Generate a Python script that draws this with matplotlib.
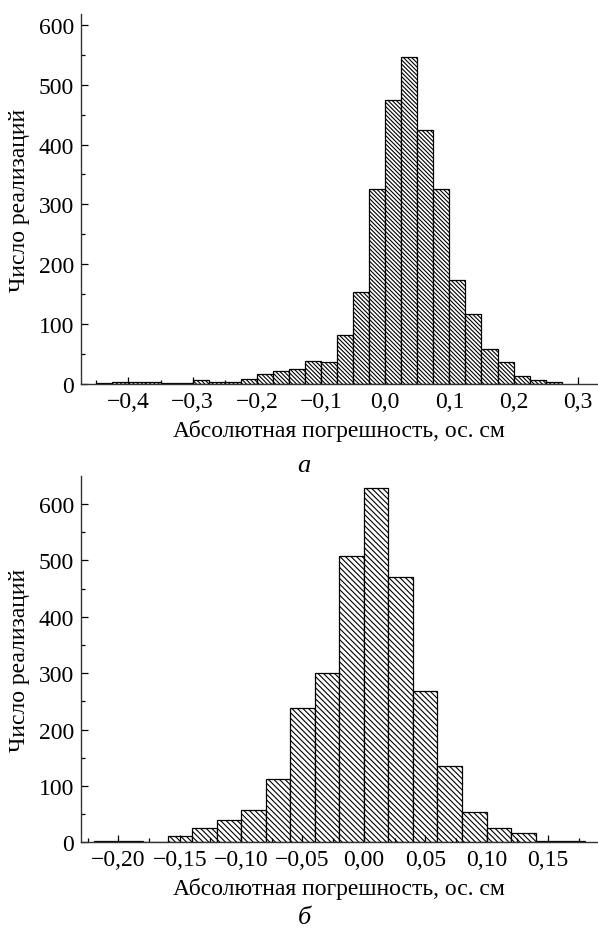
import matplotlib
matplotlib.use("Agg")
import matplotlib.pyplot as plt
import numpy as np
from matplotlib.ticker import FuncFormatter, MultipleLocator

# top histogram (а): bins of 0.025 starting at -0.45
top_start = -0.45
top_width = 0.025
top_counts = [1, 3, 3, 3, 2, 1, 7, 4, 4, 9, 16, 22, 25,
              38, 37, 82, 154, 326,
              474, 546, 424, 325, 173, 117, 59, 36, 14, 6, 3]

# bottom histogram (б): bins of 0.02 starting at -0.22
bot_start = -0.22
bot_width = 0.02
bot_counts = [3, 3, 1, 11, 25, 40, 57, 112, 239, 300,
              508, 628, 471, 268, 135, 54, 25, 17, 3, 2]

xlabel = "Абсолютная погрешность, ос. см"
ylabel = "Число реализаций"

plt.rcParams["font.family"] = ["Liberation Serif", "DejaVu Serif"]
plt.rcParams["font.size"] = 17
plt.rcParams["hatch.linewidth"] = 0.8
plt.rcParams["axes.unicode_minus"] = True

W, H = 598, 929
fig = plt.figure(figsize=(W / 100, H / 100), dpi=100)


def fmt(decimals):
    def f(v, pos):
        s = f"{v:.{decimals}f}"
        if float(s) == 0:
            s = s.lstrip("-")
        return s.replace(".", ",").replace("-", "\u2212")
    return FuncFormatter(f)


def draw(ax, start, width, counts, hatch, xlim, ylim, major, minor, decimals):
    edges = start + width * np.arange(len(counts))
    ax.bar(edges, counts, width=width, align="edge", facecolor="white",
           edgecolor="black", linewidth=0.9, hatch=hatch)
    ax.set_xlim(*xlim)
    ax.set_ylim(*ylim)
    for s in ("top", "right"):
        ax.spines[s].set_visible(False)
    for s in ("left", "bottom"):
        ax.spines[s].set_color("#333333")
        ax.spines[s].set_linewidth(1.0)
    ax.xaxis.set_major_locator(MultipleLocator(major))
    ax.xaxis.set_minor_locator(MultipleLocator(minor))
    ax.yaxis.set_major_locator(MultipleLocator(100))
    ax.yaxis.set_minor_locator(MultipleLocator(50))
    ax.xaxis.set_major_formatter(fmt(decimals))
    ax.tick_params(which="major", direction="in", length=5, width=0.9, pad=5)
    ax.tick_params(which="minor", direction="in", length=3, width=0.9)
    ax.set_xlabel(xlabel, labelpad=5)
    ax.set_ylabel(ylabel)
    ax.yaxis.set_label_coords((30 - 81) / 516, 0.5)


ax1 = fig.add_axes([81 / W, 1 - 385 / H, (597 - 81) / W, 370 / H])
draw(ax1, top_start, top_width, top_counts, "\\" * 8,
     (-0.474, 0.33), (0, 618), 0.1, 0.05, 1)

ax2 = fig.add_axes([81 / W, 1 - 843.3 / H, (597 - 81) / W, 366 / H])
draw(ax2, bot_start, bot_width, bot_counts, "\\" * 6,
     (-0.2305, 0.19), (0, 649), 0.05, 0.025, 2)

fig.text(304 / W, 1 - 466 / H, "а", style="italic", ha="center", va="center",
         fontsize=19)
fig.text(304 / W, 1 - 918 / H, "б", style="italic", ha="center", va="center",
         fontsize=19)

fig.savefig("out.png", dpi=100)
